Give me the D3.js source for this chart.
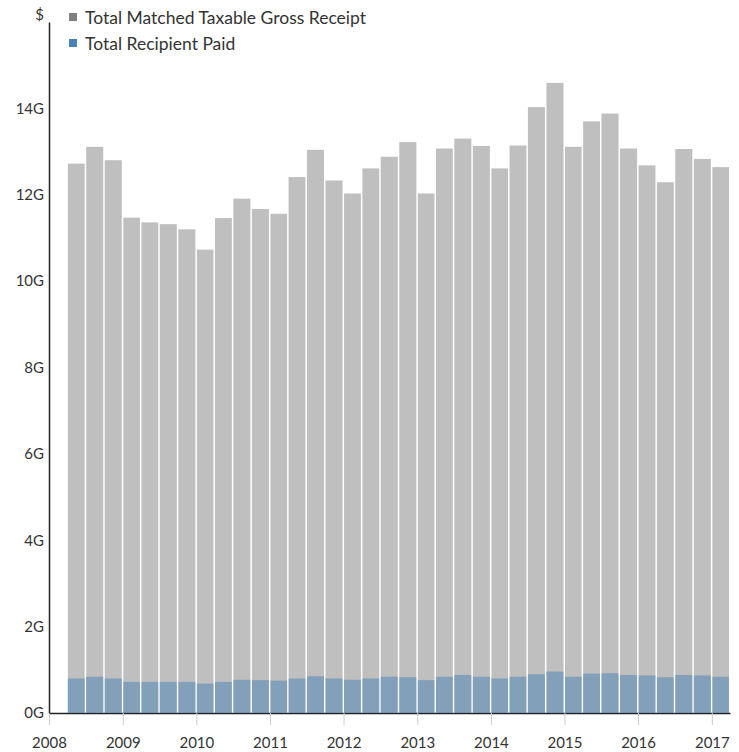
<!DOCTYPE html>
<html>
<head>
<meta charset="utf-8">
<script src="https://cdn.jsdelivr.net/npm/d3@7"></script>
<style>
  body { margin: 0; background: #fff; }
  text { font-family: Lato, "Open Sans", sans-serif; fill: #333; }
</style>
</head>
<body>
<div class="chart"></div>
<script>
// quarter start dates (Q2 2008 .. Q1 2017)
var quarters = [
  "2008-04-01","2008-07-01","2008-10-01",
  "2009-01-01","2009-04-01","2009-07-01","2009-10-01",
  "2010-01-01","2010-04-01","2010-07-01","2010-10-01",
  "2011-01-01","2011-04-01","2011-07-01","2011-10-01",
  "2012-01-01","2012-04-01","2012-07-01","2012-10-01",
  "2013-01-01","2013-04-01","2013-07-01","2013-10-01",
  "2014-01-01","2014-04-01","2014-07-01","2014-10-01",
  "2015-01-01","2015-04-01","2015-07-01","2015-10-01",
  "2016-01-01","2016-04-01","2016-07-01","2016-10-01",
  "2017-01-01"
];

// values in billions ($G)
var grossReceipt = [
  12.72, 13.11, 12.80,
  11.47, 11.36, 11.32, 11.20,
  10.73, 11.46, 11.91, 11.67,
  11.56, 12.41, 13.04, 12.33,
  12.03, 12.61, 12.88, 13.22,
  12.03, 13.07, 13.30, 13.13,
  12.61, 13.14, 14.03, 14.59,
  13.11, 13.70, 13.88, 13.07,
  12.68, 12.29, 13.06, 12.83,
  12.64
];

var recipientPaid = [
  0.80, 0.84, 0.80,
  0.72, 0.72, 0.72, 0.72,
  0.68, 0.72, 0.77, 0.76,
  0.75, 0.80, 0.85, 0.80,
  0.77, 0.80, 0.84, 0.83,
  0.76, 0.84, 0.88, 0.84,
  0.80, 0.84, 0.90, 0.96,
  0.84, 0.91, 0.92, 0.88,
  0.87, 0.83, 0.88, 0.87,
  0.84
];

var yearTicks = [2008, 2009, 2010, 2011, 2012, 2013, 2014, 2015, 2016, 2017];
var yTicks = [0, 2, 4, 6, 8, 10, 12, 14];

var seriesNames = ["Total Matched Taxable Gross Receipt", "Total Recipient Paid"];
var seriesColors = ["#808080", "steelblue"];

var margin = {top: 22, right: 9, bottom: 39, left: 49},
    width = 739 - margin.left - margin.right,
    height = 752 - margin.top - margin.bottom;

var parse = d3.timeParse("%Y-%m-%d");

var data = quarters.map(function(q, i) {
  return {date: parse(q), gross: grossReceipt[i], paid: recipientPaid[i]};
});

// set the ranges
var x = d3.scaleTime()
    .domain([new Date(2008, 0, 1), new Date(2017, 3, 1)])
    .range([0, width]);
var y = d3.scaleLinear().domain([0, 16]).range([height, 0]);

var svg = d3.select(".chart").append("svg")
    .attr("width", 739)
    .attr("height", 752)
  .append("g")
    .attr("transform", "translate(" + margin.left + "," + margin.top + ")");

// x axis
var xAxis = d3.axisBottom(x)
    .tickValues(yearTicks.map(function(yr) { return new Date(yr, 0, 1); }))
    .tickFormat(d3.timeFormat("%Y"))
    .tickSize(12)
    .tickSizeOuter(0)
    .tickPadding(12);

var gx = svg.append("g")
    .attr("transform", "translate(0," + height + ")")
    .call(xAxis);
gx.select(".domain").attr("stroke", "#222").attr("stroke-width", 1.5);
gx.selectAll(".tick line").attr("stroke", "#ccc");
gx.selectAll(".tick text").attr("font-size", 15).attr("fill", "#2a2a3a");

// y axis
var yAxis = d3.axisLeft(y)
    .tickValues(yTicks)
    .tickFormat(function(d) { return d + "G"; })
    .tickSize(0)
    .tickPadding(5);

var gy = svg.append("g").call(yAxis);
gy.select(".domain").attr("stroke", "#222").attr("stroke-width", 1.5);
gy.selectAll(".tick text").attr("font-size", 15).attr("fill", "#2a2a3a");

svg.append("text")
    .attr("x", -5)
    .attr("y", -2)
    .attr("text-anchor", "end")
    .attr("font-size", 15)
    .attr("fill", "#2a2a3a")
    .text("$");

// bars
function barX(d) { return x(d.date) + 0.5; }
function barW(d) { return x(d3.timeMonth.offset(d.date, 3)) - x(d.date) - 1.5; }

svg.selectAll(".gross")
    .data(data)
  .enter().append("rect")
    .attr("class", "gross")
    .attr("x", barX)
    .attr("width", barW)
    .attr("y", function(d) { return y(d.gross); })
    .attr("height", function(d) { return height - y(d.gross); })
    .attr("fill", seriesColors[0])
    .attr("fill-opacity", 0.5);

svg.selectAll(".paid")
    .data(data)
  .enter().append("rect")
    .attr("class", "paid")
    .attr("x", barX)
    .attr("width", barW)
    .attr("y", function(d) { return y(d.paid); })
    .attr("height", function(d) { return height - y(d.paid); })
    .attr("fill", seriesColors[1])
    .attr("fill-opacity", 0.5);

// legend
var legend = svg.selectAll(".legend")
    .data(seriesNames)
  .enter().append("g")
    .attr("class", "legend")
    .attr("transform", function(d, i) { return "translate(20," + (-9 + i * 26) + ")"; });

legend.append("rect")
    .attr("width", 8)
    .attr("height", 8)
    .attr("fill", function(d, i) { return seriesColors[i]; });

legend.append("text")
    .attr("x", 16)
    .attr("y", 11)
    .attr("font-size", 17.5)
    .attr("fill", "#2a2a3a")
    .text(function(d) { return d; });
</script>
</body>
</html>
